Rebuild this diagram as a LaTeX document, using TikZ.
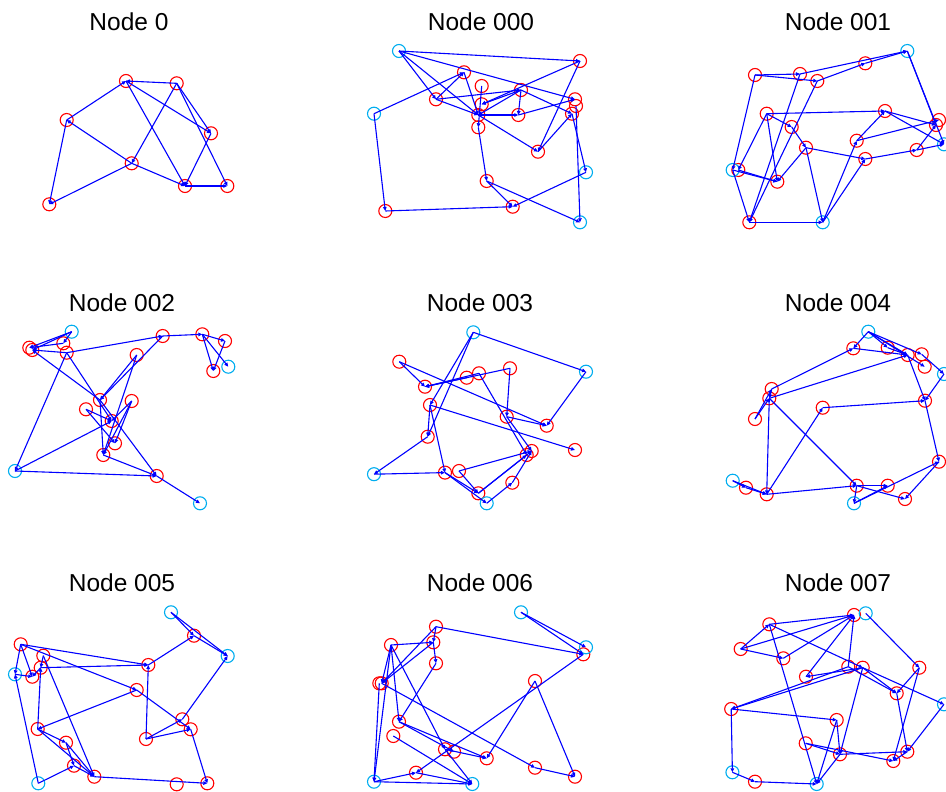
\documentclass[tikz,border=0pt]{standalone}
\usepackage{fontspec}
\setmainfont{Liberation Sans}
\usetikzlibrary{arrows.meta}
\begin{document}
\begin{tikzpicture}[x=1pt,y=-1pt,
  rn/.style={circle,draw=red,line width=1.1pt,minimum size=13pt,inner sep=0pt},
  cn/.style={circle,draw=cyan,line width=1.1pt,minimum size=13pt,inner sep=0pt},
  edge/.style={blue,line width=1.1pt,line join=miter,-{Triangle[length=4pt,width=3.5pt]}},
  ttl/.style={font=\fontsize{24.5}{28}\selectfont,inner sep=0pt}]
\useasboundingbox (0,0) rectangle (946,792);

% ---------- titles ----------
\node[ttl] (t0)   at (129,22)  {Node 0};
\node[ttl] (t000) at (481,22)  {Node 000};
\node[ttl] (t001) at (838,22)  {Node 001};
\node[ttl] (t002) at (122,303) {Node 002};
\node[ttl] (t003) at (480,303) {Node 003};
\node[ttl] (t004) at (838,303) {Node 004};
\node[ttl] (t005) at (122,583) {Node 005};
\node[ttl] (t006) at (480,583) {Node 006};
\node[ttl] (t007) at (838,583) {Node 007};

% ---------- graph 0 ----------
\foreach \n/\x/\y in {A/126/81,B/176.7/83.3,C/66.7/120,D/211/133.3,E/131.7/163.3,F/185/186,G/227.3/186,H/49.3/204.3}
  \node[rn] (p\n) at (\x,\y) {};
\foreach \u/\v in {B/A,C/A,A/F,A/D,B/E,B/D,B/G,D/F,E/C,C/H,E/H,E/F,F/G}
  \draw[edge] (p\u.center) -- (p\v.center);

% ---------- graph 000 ----------
\foreach \n/\x/\y in {r1/580/61,r2/464/72.3,r3/436/99.3,r4/481.7/86,r5/481.7/104.3,r6/478.3/115,r7/478.3/127.3,r8/521/90,r9/518.3/115,r10/575/99.3,r11/576/106,r12/572/113.7,r13/538/151.7,r14/486.7/181,r15/385.3/211,r16/512.7/206.7}
  \node[rn] (q\n) at (\x,\y) {};
\foreach \n/\x/\y in {c1/399/51,c2/374/113.7,c3/586/172.3,c4/580/222.3}
  \node[cn] (q\n) at (\x,\y) {};
\foreach \u/\v in {c1/r1,c1/r3,c1/r6,c1/r10,c2/r2,c2/r15,r3/r2,r3/r8,r3/r6,r2/r6,r1/r5,r1/r13,r4/r7,r8/r6,r8/r5,r8/r9,r8/r12,r6/r9,r9/r10,r6/r13,r13/r12,r7/r14,r12/c3,r11/c4,c3/r16,r14/r16,r14/c4,r15/r16}
  \draw[edge] (q\u.center) -- (q\v.center);

% ---------- graph 001 ----------
\foreach \n/\x/\y in {r1/755/75,r2/800/74,r3/817.3/81,r4/865.3/63.3,r5/766.7/113.7,r6/791.7/127,r7/806/147.7,r8/885/111,r9/939/120,r10/936/125,r11/856.7/140.7,r12/865.3/159,r13/916.7/150,r14/738.3/170,r15/777.3/181.7,r16/749.3/222.3}
  \node[rn] (s\n) at (\x,\y) {};
\foreach \n/\x/\y in {c1/907.3/51,c2/944/144.3,c3/732.7/170,c4/822.7/222.3}
  \node[cn] (s\n) at (\x,\y) {};
\foreach \u/\v in {r1/r2,r1/r3,r1/c3,r2/c1,r3/r4,r4/c1,r2/r16,r3/r16,c1/c2,c1/r10,r5/r8,r5/r14,r5/r15,r5/r6,r6/r7,r7/r15,r7/r12,r7/c4,r14/r15,c3/r15,c3/r16,r16/c4,c4/r11,c4/r12,r11/r8,r11/r9,r8/r10,r8/c2,r12/r13,r13/r10,r13/c2}
  \draw[edge] (s\u.center) -- (s\v.center);

% ---------- graph 002 ----------
\foreach \n/\x/\y in {r1/29.3/347.7,r2/32.3/350,r3/63.3/343.3,r4/66.7/352.7,r5/162.7/336,r6/202.3/334.3,r7/225/341,r8/213.3/371,r9/136.7/355,r10/100/400,r11/86/409.3,r12/131.7/401,r13/111.7/421,r14/115/443.3,r15/103.3/455,r16/156.7/476}
  \node[rn] (t\n) at (\x,\y) {};
\foreach \n/\x/\y in {c1/71.7/331.7,c2/228.3/366.7,c3/15/471,c4/200/503.3}
  \node[cn] (t\n) at (\x,\y) {};
\foreach \u/\v in {c1/r1,c1/r2,r3/r1,r4/r2,c1/r3,r4/r5,r5/r6,r6/r7,r6/r8,r6/c2,r7/r8,r10/r2,r4/c3,r4/r13,r5/r10,r9/r10,r9/r15,r10/r15,r10/r16,r11/r13,r11/r14,r12/r14,r12/r15,r12/r13,c3/r16,c3/r13,r15/r16,r16/c4}
  \draw[edge] (t\u.center) -- (t\v.center);

% ---------- graph 003 ----------
\foreach \n/\x/\y in {r1/399.3/361.7,r2/425/386.7,r3/466.7/377.7,r4/479/373.3,r5/510/368.3,r6/430/405,r7/506.7/416.7,r8/546.7/425.7,r9/575/450,r10/427.7/436.7,r11/526.7/455,r12/531.7/451,r13/445/472.6,r14/459/471,r15/512.3/482.7,r16/478.3/493.3}
  \node[rn] (u\n) at (\x,\y) {};
\foreach \n/\x/\y in {c1/473.3/332.3,c2/586/371.7,c3/374/474.2,c4/486.7/503.3}
  \node[cn] (u\n) at (\x,\y) {};
\foreach \u/\v in {c1/c2,c1/r6,c1/r10,r1/r2,r1/r8,r5/r2,r3/r2,r4/r2,r5/r7,r4/r11,r7/r12,r7/r8,c2/r8,r6/r9,r6/r13,r10/c3,r6/r10,c3/r13,r13/r16,r13/c4,r14/r12,r14/r16,r16/r12,r16/r11,c4/r15,r15/r12}
  \draw[edge] (u\u.center) -- (u\v.center);

% ---------- graph 004 ----------
\foreach \n/\x/\y in {r1/853.3/348.3,r2/887.7/347.7,r3/907.7/355,r4/921.7/354.3,r5/924.7/366.7,r6/771.7/389,r7/769.3/398.3,r8/755/419,r9/822.7/407.7,r10/925/400.7,r11/939/461.7,r12/746/487.7,r13/766.7/494.3,r14/856.7/485.7,r15/887.7/485.7,r16/905/499}
  \node[rn] (v\n) at (\x,\y) {};
\foreach \n/\x/\y in {c1/868.3/331.7,c2/944/374,c3/732.7/480.7,c4/854/503.3}
  \node[cn] (v\n) at (\x,\y) {};
\foreach \u/\v in {c1/r1,c1/r2,c1/r3,c1/r5,c1/r4,r1/r3,r2/r3,r6/r1,r7/r3,r3/r10,r4/c2,c2/r10,r8/r6,r8/r7,r6/r7,r7/r13,r7/r14,r9/r10,r13/r9,r10/r11,c3/r12,r12/r13,c3/r13,r13/r14,r14/r15,r14/c4,c4/r11,c4/r15,r11/r16,r14/r16}
  \draw[edge] (v\u.center) -- (v\v.center);

% ---------- graph 005 ----------
\foreach \n/\x/\y in {r1/194/635.7,r2/20.7/644.3,r3/43.3/655.7,r4/40.7/667.7,r5/32.3/676.7,r6/148.3/665,r7/136.7/690,r8/182.3/719.3,r9/190.7/729.3,r10/37.7/729,r11/146/739,r12/66/742.7,r13/74/765.7,r14/94.3/776.7,r15/176.7/784.3,r16/207.3/783.3}
  \node[rn] (w\n) at (\x,\y) {};
\foreach \n/\x/\y in {c1/171/612.3,c2/227.7/656,c3/15/674.3,c4/38.3/783.3}
  \node[cn] (w\n) at (\x,\y) {};
\foreach \u/\v in {c1/r1,c1/c2,r1/c2,r6/r1,r8/c2,r2/r6,r2/r7,r7/r9,r2/r5,c3/r5,c4/c3,r2/c3,r4/r6,r3/r14,r10/r4,r4/r5,r3/r4,r11/r6,r7/r10,r10/r12,r10/r14,r12/r14,r11/r8,r11/r9,r9/r16,c4/r13,r12/r13,r13/r14,r14/r16}
  \draw[edge] (w\u.center) -- (w\v.center);

% ---------- graph 006 ----------
\foreach \n/\x/\y in {r1/583.3/654.3,r2/436/626.7,r3/433.3/642.3,r4/391/645,r5/436/663.3,r6/379.3/683.3,r7/381.7/683.3,r8/535/681,r9/399/721.7,r10/393.3/736,r11/445/749.3,r12/454/751.7,r13/486.7/758.3,r14/535/767.7,r15/575/776.7,r16/416/772.7}
  \node[rn] (x\n) at (\x,\y) {};
\foreach \n/\x/\y in {c1/521/612.3,c2/586/647.3,c3/374/781.7,c4/472.3/784}
  \node[cn] (x\n) at (\x,\y) {};
\foreach \u/\v in {c1/c2,c1/r1,r2/r1,r2/r3,r3/r5,r2/r7,r3/r7,r4/r7,r4/r9,r4/r11,r4/r3,r4/c3,r5/r9,r7/r14,r6/c3,r1/r16,r8/r13,r8/r15,r9/r13,r9/r12,r10/c4,r11/c4,r11/r13,c3/r16,r16/c4,c3/c4,r14/r15}
  \draw[edge] (x\u.center) -- (x\v.center);

% ---------- graph 007 ----------
\foreach \n/\x/\y in {r1/854/615,r2/769.3/624.3,r3/740.7/649,r4/783.3/658.3,r5/806/676.7,r6/848.3/666.7,r7/862.7/667.7,r8/919.3/667.7,r9/896.7/693.3,r10/731.2/709,r11/836.7/720,r12/805.7/743.3,r13/840/754.3,r14/907.3/751.7,r15/893.3/761,r16/755/781.7}
  \node[rn] (y\n) at (\x,\y) {};
\foreach \n/\x/\y in {c1/865.7/613.3,c2/944/704.3,c3/732.4/772.3,c4/816.7/784}
  \node[cn] (y\n) at (\x,\y) {};
\foreach \u/\v in {r2/r1,r3/r1,r4/r1,r5/r1,c1/r8,r6/r1,r3/r2,r2/r7,r2/c4,r3/r4,r7/r5,r6/r10,r7/r10,r10/r11,r10/c3,r6/r9,r7/r9,r7/c2,r7/r13,r8/r9,r8/r15,c2/r14,r9/r14,r11/c4,r11/r13,r12/r13,r12/r15,r13/r14,r13/c4,r14/r15,c3/r16,r16/c4}
  \draw[edge] (y\u.center) -- (y\v.center);
\end{tikzpicture}
\end{document}
